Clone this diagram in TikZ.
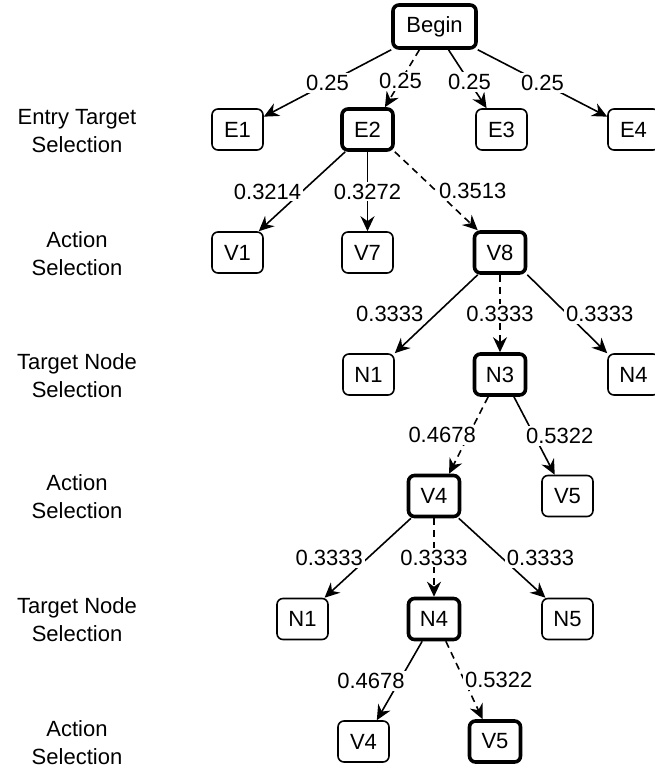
\documentclass[tikz,border=0pt]{standalone}
\usepackage{fontspec}
\setmainfont{Liberation Sans}
\usepackage{tikz}
\usetikzlibrary{arrows.meta,positioning}

\begin{document}
\begin{tikzpicture}[
      x=0.5pt, y=-0.5pt,
      every node/.style={font=\fontsize{11}{13}\selectfont},
      boxState/.style={rectangle, rounded corners=3pt, draw=black, fill=white, line width=0.8pt, minimum width=25.5pt, minimum height=20.5pt, inner sep=0pt},
      boxChosen/.style={boxState, line width=1.8pt},
      levelNote/.style={align=center, font=\fontsize{11}{14}\selectfont},
      flow/.style={-{Stealth[length=7.5pt, width=7pt, inset=2.5pt]}, line width=0.8pt},
      flowChosen/.style={flow, dash pattern=on 3.5pt off 2.5pt},
      probText/.style={fill=white, inner sep=1pt}
    ]
      \useasboundingbox[fill=white] (0,0) rectangle (654,769);
      \node[levelNote] (noteEntry) at (77,131) {Entry Target\\Selection};
      \node[levelNote] (noteActA) at (77,253.5) {Action\\Selection};
      \node[levelNote] (noteTgtA) at (77,375.5) {Target Node\\Selection};
      \node[levelNote] (noteActB) at (77,497) {Action\\Selection};
      \node[levelNote] (noteTgtB) at (77,620) {Target Node\\Selection};
      \node[levelNote] (noteActC) at (77,742.5) {Action\\Selection};

      \node[boxChosen, minimum width=41.5pt, minimum height=21.5pt] (begin) at (434.5,26.5) {Begin};
      \node[boxState] (e1) at (237.5,129.5) {E1};
      \node[boxChosen] (e2) at (367.5,129.5) {E2};
      \node[boxState] (e3) at (501.5,129.5) {E3};
      \node[boxState] (e4) at (633.5,129.5) {E4};
      \node[boxState] (v1) at (237.5,252.5) {V1};
      \node[boxState] (v7) at (367.5,252.5) {V7};
      \node[boxChosen] (v8) at (500,252.5) {V8};
      \node[boxState] (n1) at (368.5,374.5) {N1};
      \node[boxChosen] (n3) at (500,374.5) {N3};
      \node[boxState] (n4) at (633.5,374.5) {N4};
      \node[boxChosen] (v4) at (434,496) {V4};
      \node[boxState] (v5) at (567.5,496) {V5};
      \node[boxState] (n1b) at (302.5,619) {N1};
      \node[boxChosen] (n4b) at (434,619) {N4};
      \node[boxState] (n5b) at (567.5,619) {N5};
      \node[boxState] (v4c) at (363.5,741.5) {V4};
      \node[boxChosen] (v5c) at (495,741.5) {V5};

      \draw[flow] (begin.south west) -- node[probText, pos=0.5] {0.25} (e1.26);
      \draw[flowChosen] (begin.237) -- node[probText, pos=0.55] {0.25} (e2.52);
      \draw[flow] (begin.301) -- node[probText, pos=0.55] {0.25} (e3.125);
      \draw[flow] (begin.south east) -- node[probText, pos=0.5] {0.25} (e4.154);

      \draw[flow] (e2.225) -- node[probText, pos=0.5, anchor=east, xshift=1pt] {0.3214} (v1.45);
      \draw[flow] (e2.south) -- node[probText, pos=0.5] {0.3272} (v7.north);
      \draw[flowChosen] (e2.south east) -- node[probText, pos=0.5, anchor=west] {0.3513} (v8.135);

      \draw[flow] (v8.225) -- node[probText, pos=0.5, anchor=east, xshift=-5pt] {0.3333} (n1.north east);
      \draw[flowChosen] (v8.south) -- node[probText, pos=0.5] {0.3333} (n3.north);
      \draw[flow] (v8.south east) -- node[probText, pos=0.5, anchor=west, xshift=-2pt] {0.3333} (n4.north west);

      \draw[flowChosen] (n3.242) -- node[probText, pos=0.5, anchor=east, xshift=5pt] {0.4678} (v4.56);
      \draw[flow] (n3.302) -- node[probText, pos=0.5, anchor=west, xshift=-5.5pt] {0.5322} (v5.121);

      \draw[flow] (v4.224) -- node[probText, pos=0.5, anchor=east, xshift=-1pt] {0.3333} (n1b.44);
      \draw[flowChosen] (v4.south) -- node[probText, pos=0.5] {0.3333} (n4b.north);
      \draw[flow] (v4.318) -- node[probText, pos=0.5, anchor=west, xshift=1pt] {0.3333} (n5b.136);

      \draw[flow] (n4b.242) -- node[probText, pos=0.5, anchor=east, xshift=4pt] {0.4678} (v4c.58);
      \draw[flowChosen] (n4b.298) -- node[probText, pos=0.5, anchor=west, xshift=-1pt] {0.5322} (v5c.119);
    \end{tikzpicture}
\end{document}
